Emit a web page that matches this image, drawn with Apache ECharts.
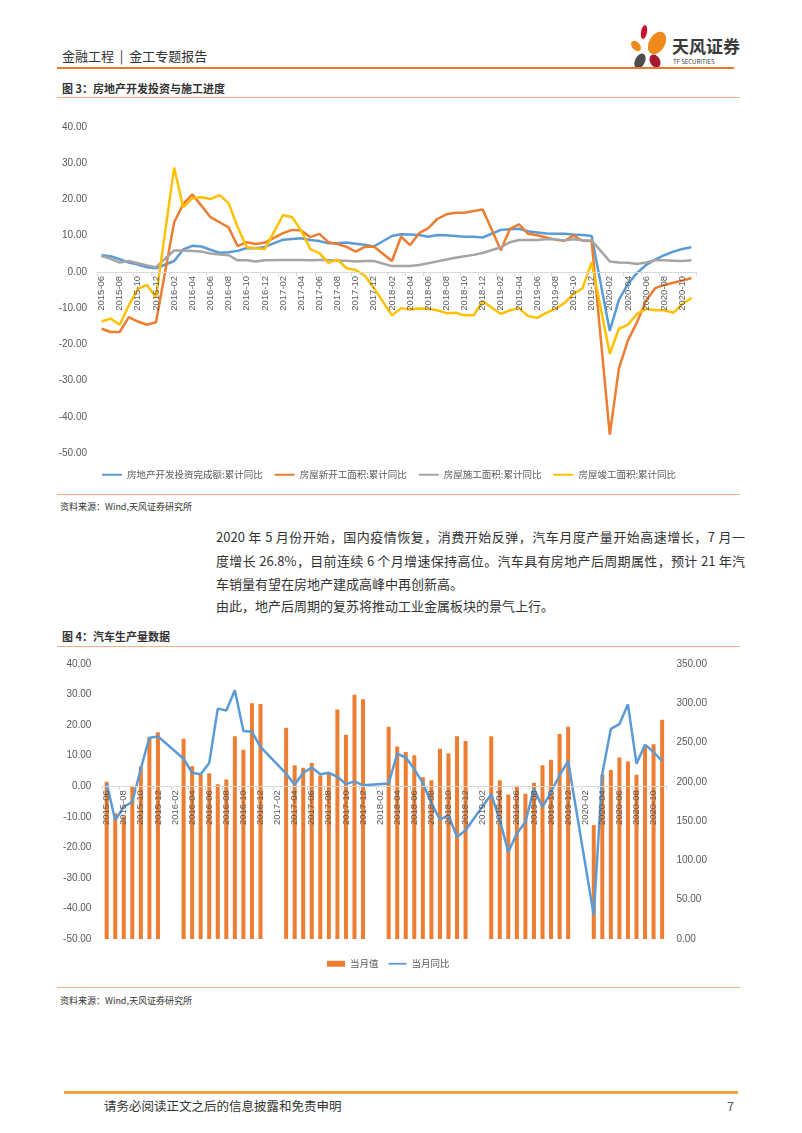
<!DOCTYPE html>
<html><head><meta charset="utf-8">
<script src="https://cdn.jsdelivr.net/npm/echarts@6/dist/echarts.min.js"></script>
<style>
body{margin:0;background:#fff;}
#page{position:relative;width:802px;height:1133px;overflow:hidden;font-family:"Noto Sans CJK SC","Noto Sans",sans-serif;color:#333;background:#fff;}
.abs{position:absolute;white-space:nowrap;}
.ln{position:absolute;height:0;}
.para{position:absolute;left:216px;width:529px;font-size:13px;line-height:18px;color:#333;white-space:nowrap;}
.just{text-align:justify;text-align-last:justify;}
</style></head><body><div id="page">
<div class="abs" style="left:62px;top:47px;font-size:13px;line-height:18px;color:#333;">金融工程&nbsp;&nbsp;|&nbsp;&nbsp;金工专题报告</div>
<svg class="abs" style="left:626px;top:22px;" width="48" height="50" viewBox="0 0 48 50">
  <ellipse cx="18" cy="10" rx="3" ry="7" fill="#C8102E" transform="rotate(10 18 10)"/>
  <ellipse cx="31" cy="21" rx="8" ry="12" fill="#F08A1D" transform="rotate(30 31 21)"/>
  <ellipse cx="10" cy="24" rx="4" ry="6" fill="#F08A1D" transform="rotate(-40 10 24)"/>
  <ellipse cx="14" cy="39" rx="5" ry="8" fill="#4D4D4D" transform="rotate(25 14 39)"/>
  <ellipse cx="29" cy="39" rx="5" ry="7" fill="#A6192E" transform="rotate(-30 29 39)"/>
</svg>
<div class="abs" style="left:672px;top:36px;font-size:17px;line-height:20px;font-weight:bold;color:#3a3a3a;">天风证券</div>
<div class="abs" style="left:673px;top:58px;font-size:6px;line-height:8px;color:#3a3a3a;">TF SECURITIES</div>
<div class="ln" style="left:57px;top:67px;width:677px;border-top:2px solid #E8792A;"></div>

<div class="abs" style="left:62px;top:80px;font-size:11px;line-height:16px;font-weight:bold;color:#333;">图 3：房地产开发投资与施工进度</div>
<div class="ln" style="left:57px;top:97px;width:683px;border-top:1px solid #F4B183;"></div>

<div id="c1" class="abs" style="left:0;top:100px;width:802px;height:392px;"></div>

<div class="ln" style="left:57px;top:494px;width:683px;border-top:1px solid #F4B183;"></div>
<div class="abs" style="left:60px;top:501px;font-size:9px;line-height:12px;color:#333;">资料来源：Wind,天风证券研究所</div>

<div class="para just" style="top:528px;">2020 年 5 月份开始，国内疫情恢复，消费开始反弹，汽车月度产量开始高速增长，7 月一</div>
<div class="para just" style="top:552px;">度增长 26.8%，目前连续 6 个月增速保持高位。汽车具有房地产后周期属性，预计 21 年汽</div>
<div class="para" style="top:575px;">车销量有望在房地产建成高峰中再创新高。</div>
<div class="para" style="top:597px;">由此，地产后周期的复苏将推动工业金属板块的景气上行。</div>

<div class="abs" style="left:62px;top:628px;font-size:11px;line-height:16px;font-weight:bold;color:#333;">图 4：汽车生产量数据</div>
<div class="ln" style="left:57px;top:646px;width:683px;border-top:1px solid #F4B183;"></div>

<div id="c2" class="abs" style="left:0;top:650px;width:802px;height:330px;"></div>

<div class="ln" style="left:57px;top:987px;width:683px;border-top:1px solid #F4B183;"></div>
<div class="abs" style="left:60px;top:995px;font-size:9px;line-height:12px;color:#333;">资料来源：Wind,天风证券研究所</div>

<div class="ln" style="left:64px;top:1091px;width:674px;border-top:3px solid #F2A33A;"></div>
<div class="abs" style="left:104px;top:1097px;font-size:12.5px;line-height:17px;color:#333;">请务必阅读正文之后的信息披露和免责申明</div>
<div class="abs" style="left:727px;top:1097px;font-size:12.5px;line-height:17px;color:#555;">7</div>
</div>
<script>
// ---------- shared month categories ----------
const months = [
 '2015-06','2015-07','2015-08','2015-09','2015-10','2015-11','2015-12',
 '2016-01','2016-02','2016-03','2016-04','2016-05','2016-06','2016-07','2016-08','2016-09','2016-10','2016-11','2016-12',
 '2017-01','2017-02','2017-03','2017-04','2017-05','2017-06','2017-07','2017-08','2017-09','2017-10','2017-11','2017-12',
 '2018-01','2018-02','2018-03','2018-04','2018-05','2018-06','2018-07','2018-08','2018-09','2018-10','2018-11','2018-12',
 '2019-01','2019-02','2019-03','2019-04','2019-05','2019-06','2019-07','2019-08','2019-09','2019-10','2019-11','2019-12',
 '2020-01','2020-02','2020-03','2020-04','2020-05','2020-06','2020-07','2020-08','2020-09','2020-10','2020-11'
];

// ---------- Figure 3 series ----------
const seriesNames1 = ['房地产开发投资完成额:累计同比','房屋新开工面积:累计同比','房屋施工面积:累计同比','房屋竣工面积:累计同比'];
const investYoY = [4.6,4.3,3.5,2.6,2.0,1.3,1.0,
 null,3.0,6.2,7.2,7.0,6.1,5.3,5.4,5.8,6.6,6.5,6.9,
 null,8.9,9.1,9.3,8.8,8.5,7.9,7.9,8.1,7.8,7.5,7.0,
 null,9.9,10.4,10.3,10.2,9.7,10.2,10.1,9.9,9.7,9.7,9.5,
 null,11.6,11.8,11.9,11.2,10.9,10.6,10.5,10.5,10.3,10.2,9.9,
 null,-16.3,-7.7,-3.3,-0.3,1.9,3.4,4.6,5.6,6.3,6.8];
const newStartYoY = [-15.7,-16.6,-16.6,-12.5,-13.7,-14.6,-13.9,
 null,13.7,18.7,21.4,18.3,15.1,13.7,12.3,7.1,8.2,7.7,8.1,
 null,10.7,11.6,11.4,9.6,10.5,8.2,7.7,6.9,5.6,6.9,7.0,
 null,3.0,9.7,7.4,10.7,12.1,14.6,15.9,16.3,16.3,16.8,17.2,
 null,6.0,11.9,13.1,10.5,10.1,9.5,8.9,8.6,10.0,8.6,8.5,
 null,-44.9,-26.7,-18.9,-13.9,-7.9,-4.5,-3.6,-3.0,-2.4,-1.7];
const constructionYoY = [4.4,3.6,2.6,3.0,2.4,1.8,1.3,
 null,5.9,5.9,5.8,5.6,5.1,4.8,4.6,3.2,3.2,2.9,3.2,
 null,3.3,3.3,3.3,3.2,3.3,3.3,3.1,3.1,2.9,3.0,3.0,
 null,1.6,1.6,1.6,1.9,2.4,2.9,3.4,3.9,4.3,4.7,5.2,
 null,6.8,8.2,8.8,8.8,8.8,9.0,9.0,8.7,9.0,8.7,8.7,
 null,2.9,2.6,2.5,2.2,2.6,3.2,3.2,3.1,3.0,3.2];
const completionYoY = [-13.7,-12.9,-14.6,-9.3,-4.7,-3.6,-7.0,
 null,28.8,17.8,20.3,20.6,20.1,21.2,19.0,12.3,6.8,6.5,6.3,
 null,15.7,15.1,11.4,6.3,5.2,2.5,3.4,1.0,0.5,-1.0,-4.4,
 null,-12.0,-10.0,-10.4,-10.1,-10.2,-10.6,-11.4,-11.3,-12.0,-12.0,-8.1,
 null,-11.6,-10.6,-10.0,-12.2,-12.7,-11.3,-10.2,-8.6,-6.1,-4.5,2.6,
 null,-22.6,-15.7,-14.6,-11.6,-10.2,-10.6,-10.6,-11.3,-8.8,-7.2];
const colors1 = ['#5B9BD5','#ED7D31','#A5A5A5','#FFC000'];

// ---------- Figure 4 series ----------
const seriesNames2 = ['当月值','当月同比'];
const autoOutput = [200,160,156,195,220,257,263,
 null,null,255,220,209,211,197,203,258,241,300,299,
 null,null,269,221,218,224,208,211,292,260,311,305,
 null,null,270,245,238,234,206,202,242,236,258,252,
 null,null,258,202,184,195,185,199,221,228,261,270,
 null,null,145,209,215,231,226,209,246,248,279];
const autoYoY = [0.9,-11.1,-6.8,-5.1,5.8,15.9,16.3,
 null,null,9.0,4.4,3.9,7.6,25.4,24.8,31.4,18.1,17.8,12.9,
 null,null,4.1,0.5,4.4,6.1,3.9,4.4,3.1,0.7,1.6,0.3,
 null,null,0.9,10.7,9.4,5.6,1.0,-5.6,-10.9,-9.5,-16.6,-14.4,
 null,null,-2.6,-11.1,-21.5,-15.5,-11.7,-0.8,-6.8,-1.9,3.6,8.2,
 null,null,-42.2,4.1,18.8,20.3,26.8,7.4,13.6,11.2,8.2];

const axisFont = {fontFamily:'"Liberation Sans","Noto Sans",sans-serif', fontSize:10, color:'#595959'};
const fmt2 = v => v.toFixed(2);

// zero-line offsets (axis placed where left value axis crosses 0)
const g1 = {left:97, top:27, width:599, height:326, min:-50, max:40};
const g2 = {left:102.4, top:14, width:564, height:275, min:-50, max:40};
const zeroOffset = g => -g.height * (0 - g.min) / (g.max - g.min);

// ---------- Chart 1 ----------
const c1 = echarts.init(document.getElementById('c1'));
const data1 = [investYoY, newStartYoY, constructionYoY, completionYoY];
c1.setOption({
  animation:false,
  grid:{left:g1.left, top:g1.top, width:g1.width, height:g1.height},
  legend:{left:97, top:365, itemWidth:20, itemHeight:14, itemGap:12, icon:'path://M0,6L20,6L20,8L0,8Z',
    textStyle:{fontFamily:'"Noto Sans CJK SC",sans-serif', fontSize:9.5, color:'#595959'},
    data:seriesNames1},
  xAxis:{type:'category', data:months, boundaryGap:true, offset:zeroOffset(g1), z:10,
    axisLine:{onZero:false, lineStyle:{color:'#D9D9D9', width:1}},
    axisTick:{show:true, interval:1, length:4, lineStyle:{color:'#D9D9D9'}},
    axisLabel:Object.assign({rotate:90, interval:1, margin:4}, axisFont, {fontSize:9.5})},
  yAxis:{type:'value', min:g1.min, max:g1.max, interval:10,
    axisLine:{show:false}, axisTick:{show:false}, splitLine:{show:false},
    axisLabel:Object.assign({formatter:fmt2, margin:10}, axisFont)},
  series: data1.map((d,i)=>({name:seriesNames1[i], type:'line', data:d, connectNulls:true,
    symbol:'none', lineStyle:{width:2.5, color:colors1[i]}, itemStyle:{color:colors1[i]}}))
});

// ---------- Chart 2 ----------
const c2 = echarts.init(document.getElementById('c2'));
c2.setOption({
  animation:false,
  grid:{left:g2.left, top:g2.top, width:g2.width, height:g2.height},
  legend:{left:322, top:304, itemWidth:18, itemHeight:6, itemGap:10,
    textStyle:{fontFamily:'"Noto Sans CJK SC",sans-serif', fontSize:9.5, color:'#595959'},
    data:[{name:'当月值', icon:'rect'}, {name:'当月同比', icon:'path://M0,5L20,5L20,7L0,7Z'}]},
  xAxis:{type:'category', data:months, boundaryGap:true, offset:zeroOffset(g2), z:10,
    axisLine:{onZero:false, lineStyle:{color:'#D9D9D9', width:1}},
    axisTick:{show:true, interval:1, length:4, lineStyle:{color:'#D9D9D9'}},
    axisLabel:Object.assign({rotate:90, interval:1, margin:4}, axisFont, {fontSize:9.5})},
  yAxis:[
    {type:'value', position:'left', min:g2.min, max:g2.max, interval:10,
      axisLine:{show:false}, axisTick:{show:false}, splitLine:{show:false},
      axisLabel:Object.assign({formatter:fmt2, margin:11}, axisFont)},
    {type:'value', position:'right', min:0, max:350, interval:50,
      axisLine:{show:false}, axisTick:{show:false}, splitLine:{show:false},
      axisLabel:Object.assign({formatter:fmt2, margin:10}, axisFont)}
  ],
  series:[
    {name:'当月值', type:'bar', yAxisIndex:1, data:autoOutput, barWidth:4, itemStyle:{color:'#ED7D31'}},
    {name:'当月同比', type:'line', yAxisIndex:0, data:autoYoY, connectNulls:true, symbol:'none', z:5,
      lineStyle:{width:2.5, color:'#5B9BD5'}, itemStyle:{color:'#5B9BD5'}}
  ]
});
</script>
</body></html>
